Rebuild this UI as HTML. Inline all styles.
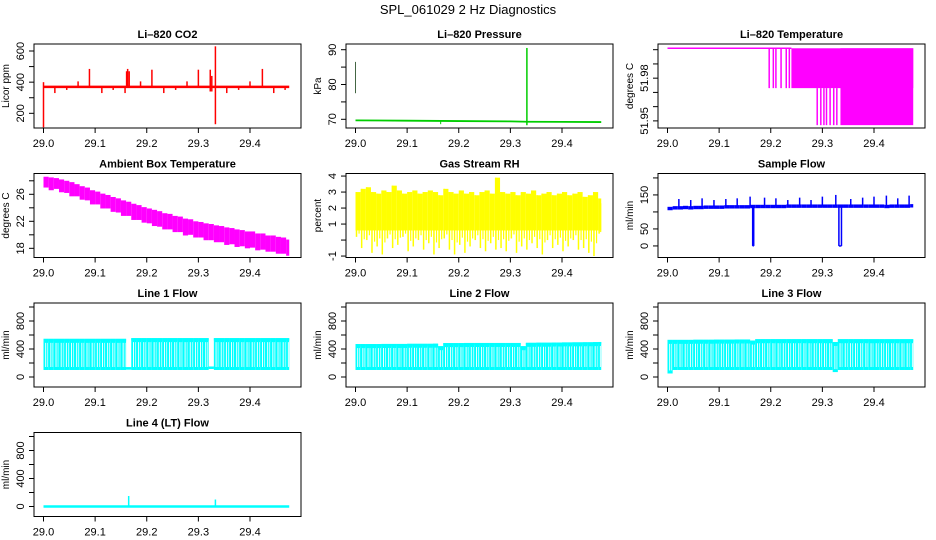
<!DOCTYPE html>
<html><head><meta charset="utf-8"><style>
body{margin:0;background:#fff;}
svg{display:block;font-family:"Liberation Sans",Arial,sans-serif;}
</style></head><body>
<svg id="c" width="936" height="540" viewBox="0 0 936 540" xmlns="http://www.w3.org/2000/svg">
<text x="468" y="14" text-anchor="middle" font-size="13">SPL_061029  2 Hz Diagnostics</text>
</svg>
<script>
// ---- shared x data ----
const xTicks=[29.0,29.1,29.2,29.3,29.4];
const xTickLabels=["29.0","29.1","29.2","29.3","29.4"];
const binStart=29.0, binStep=0.01;
// ---- CO2 ----
const co2BaseX=[29.0,29.476];
const co2BaseY=[370,370];
const co2SpikeX=[29.0,29.022,29.045,29.067,29.089,29.113,29.135,29.158,29.161,29.163,29.166,29.188,29.21,29.233,29.256,29.278,29.30,29.323,29.326,29.333,29.355,29.378,29.40,29.424,29.446,29.468];
const co2SpikeLo=[110,330,350,370,370,330,350,330,370,370,370,370,370,330,350,370,370,340,340,130,330,350,370,370,330,350];
const co2SpikeHi=[400,370,370,405,485,370,370,370,470,485,470,405,480,370,370,405,480,480,440,630,370,370,405,485,370,370];
// ---- Pressure ----
const presX=[29.0,29.1,29.2,29.3,29.333,29.4,29.476];
const presY=[69.7,69.6,69.5,69.4,69.3,69.25,69.2];
const presSpikeX=[29.0,29.165,29.332];
const presSpikeLo=[77.5,68.6,68.3];
const presSpikeHi=[86.5,69.8,90.5];
// ---- Li-820 temperature ----
const ltLevels=[52.001,51.973,51.947];
const ltTopX=[29.0,29.24];
const ltDropMidX=[29.197,29.205,29.21,29.22,29.23,29.236];
const ltBandMidX=[29.24,29.476];
const ltDropLowX=[29.29,29.297,29.303,29.308,29.315,29.322,29.328];
const ltBandLowX=[29.335,29.476];
// ---- Ambient box temperature (bins of 0.01) ----
const ambHi=[28.6,28.5,28.4,28.2,28.0,27.8,27.5,27.2,27.0,26.6,26.4,26.1,25.9,25.6,25.4,25.1,24.9,24.6,24.4,24.1,23.9,23.7,23.5,23.2,23.1,22.8,22.7,22.4,22.3,22.0,21.9,21.7,21.6,21.4,21.3,21.1,21.0,20.8,20.7,20.5,20.5,20.2,20.2,19.9,19.9,19.7,19.6,19.3];
const ambLo=[27.0,26.6,26.8,26.3,26.2,25.7,25.7,25.2,25.1,24.5,24.5,23.9,23.9,23.4,23.3,22.8,22.8,22.2,22.2,21.8,21.7,21.3,21.2,20.8,20.8,20.4,20.4,19.9,20.0,19.6,19.6,19.2,19.2,18.9,18.9,18.5,18.6,18.2,18.3,18.0,18.1,17.7,17.8,17.5,17.5,17.2,17.2,16.9];
// ---- Gas stream RH ----
const rhHi=[3.0,3.2,3.3,3.0,2.9,3.1,3.0,3.4,3.1,2.9,3.0,3.1,2.9,3.0,3.1,3.0,2.8,3.2,3.0,2.9,3.1,2.9,3.0,2.8,3.0,3.1,2.9,3.9,3.0,2.9,3.0,2.8,3.0,2.9,3.1,2.8,2.9,3.0,2.8,2.9,3.0,2.8,2.9,3.0,2.7,2.8,3.0,2.6];
const rhLo=[0.2,-0.5,0.0,-0.8,-0.4,-0.9,0.1,-0.5,-0.3,0.2,-0.7,-0.4,0.0,-0.6,-0.2,-0.9,-0.5,0.1,-0.6,-0.9,-0.3,-0.8,-0.4,0.0,-0.5,-0.7,-0.2,-0.6,-0.5,-0.7,0.1,-0.8,-0.4,-0.6,-0.2,-0.5,-0.9,0.0,-0.5,-0.3,-0.7,-0.4,0.0,-0.6,-0.5,-0.8,-1.0,0.4];
// ---- Sample flow ----
const sfMid=[110,112,112,113,112,113,113,114,114,114,114,115,115,115,115,115,116,116,116,116,116,116,116,117,117,117,117,117,117,117,117,117,117,117,117,117,117,117,117,117,117,117,116,117,117,117,117,118];
const sfSpikeX=[29.022,29.045,29.067,29.09,29.113,29.135,29.16,29.188,29.21,29.233,29.256,29.278,29.30,29.326,29.355,29.378,29.40,29.424,29.446,29.468];
const sfSpikeY=[138,135,140,135,138,140,145,142,140,135,142,135,145,150,138,142,145,148,140,148];
const sfDipStart=[29.165,29.332];
const sfDipEnd=[29.167,29.337];
const sfDipY=[0,0];
// ---- Line flows (bins of 0.01) ----
const l1Hi=[545,545,545,545,545,545,545,545,545,545,545,545,545,545,545,545,140,555,555,555,555,555,555,555,555,555,555,555,555,555,555,555,150,555,555,555,555,555,555,555,555,555,555,555,555,555,555,555];
const l1Lo=[100,100,100,100,100,100,100,100,100,100,100,100,100,100,100,100,125,100,100,100,100,100,100,100,100,100,100,100,100,100,100,100,130,100,100,100,100,100,100,100,100,100,100,100,100,100,100,100];
const l2Hi=[470,470,470,470,470,472,472,472,472,472,474,474,474,474,474,476,440,484,484,484,484,486,486,486,486,486,486,486,486,486,486,486,440,488,488,490,490,490,492,492,494,494,495,495,496,496,498,500];
const l2Lo=[100,100,100,100,100,100,100,100,100,100,100,100,100,100,100,100,100,100,100,100,100,100,100,100,100,100,100,100,100,100,100,100,100,100,100,100,100,100,100,100,100,100,100,100,100,100,100,100];
const l3Hi=[530,530,530,530,530,532,532,532,532,534,534,534,534,536,536,536,520,540,540,540,540,540,540,540,540,540,540,540,540,540,540,540,500,540,540,540,540,540,540,540,540,540,540,540,540,540,540,540];
const l3Lo=[50,100,100,100,100,100,100,100,100,100,100,100,100,100,100,100,100,100,100,100,100,100,100,100,100,100,100,100,100,100,100,100,70,100,100,100,100,100,100,100,100,100,100,100,100,100,100,100];
const l4BaseX=[29.0,29.476];
const l4BaseY=[0,0];
const l4SpikeX=[29.165,29.333];
const l4SpikeY=[150,100];

const NS="http://www.w3.org/2000/svg";
const svg=document.getElementById('c');
const X0=28.9816,X1=29.4988,BW=267,BH=84;
const colL=[34,346,658], rowT=[44,173.5,303,432.5];
function mk(tag,attrs,parent){const e=document.createElementNS(NS,tag);for(const k in attrs)e.setAttribute(k,attrs[k]);parent.appendChild(e);return e;}

function panel(name,col,row,title,ylab,ymin,ymax,yticks,ylabels){
  const L=colL[col],T=rowT[row];
  const g=mk('g',{},svg);
  
  
  const sx=v=>L+(v-X0)/(X1-X0)*BW;
  const sy=v=>T+BH-(v-ymin)/(ymax-ymin)*BH;
  const t=mk('text',{x:L+BW/2,y:T-6,'text-anchor':'middle','font-size':'11','font-weight':'bold'},g);
  t.textContent=title;
  
  
  const plot=mk('g',{},g);
  
  
  const box=mk('rect',{x:L,y:T,width:BW,height:BH,fill:'none',stroke:'#000','stroke-width':1},g);
  
  
  const xa=mk('g',{},g);
  
  
  xTicks.forEach((v,i)=>{
    mk('line',{x1:sx(v),x2:sx(v),y1:T+BH,y2:T+BH+5,stroke:'#000'},xa);
    const lb=mk('text',{x:sx(v),y:T+BH+19,'text-anchor':'middle','font-size':'11'},xa);
    lb.textContent=xTickLabels[i];
    
    
  });
  const ya=mk('g',{},g);
  
  
  yticks.forEach(v=>{mk('line',{x1:L-5,x2:L,y1:sy(v),y2:sy(v),stroke:'#000'},ya);});
  ylabels.forEach(v=>{
    const x=L-10,y=sy(v);
    const lb=mk('text',{x:x,y:y,'text-anchor':'middle','font-size':'11',transform:`rotate(-90 ${x} ${y})`},ya);
    lb.textContent=String(v);
    
    
  });
  const yx=L-25,yy=T+BH/2;
  const yl=mk('text',{x:yx,y:yy,'text-anchor':'middle','font-size':'10',transform:`rotate(-90 ${yx} ${yy})`},g);
  yl.textContent=ylab;
  
  
  return {g:plot,sx,sy};
}
function vl(p,x,a,b,c,w){mk('line',{x1:x,x2:x,y1:a,y2:b,stroke:c,'stroke-width':w||1},p);}
function band(P,lo,hi,c){lo.forEach((v,i)=>{const x1=P.sx(binStart+i*binStep),x2=P.sx(Math.min(binStart+(i+1)*binStep,29.476));const y1=P.sy(hi[i]),y2=P.sy(v);mk('rect',{x:x1,y:Math.min(y1,y2),width:Math.max(x2-x1,1),height:Math.max(Math.abs(y2-y1),1),fill:c},P.g);});}
function stripes(P,lo,hi,c){lo.forEach((v,i)=>{const x1=P.sx(binStart+i*binStep),x2=P.sx(Math.min(binStart+(i+1)*binStep,29.476));
  const y1=P.sy(hi[i]),y2=P.sy(v);
  mk('rect',{x:x1,y:Math.min(y1,y2),width:Math.max(x2-x1,1),height:Math.max(Math.abs(y2-y1),2),fill:c},P.g);
  mk('rect',{x:x1,y:y1,width:Math.max(x2-x1,1),height:2.5,fill:c},P.g);
  if(hi[i]>300){mk('line',{x1:x1+2.2,x2:x1+2.2,y1:y1+4,y2:y2-3,stroke:'#fff','stroke-width':0.9},P.g);
    mk('line',{x1:x1+4.2,x2:x1+4.2,y1:y1+4,y2:y2-3,stroke:'#fff','stroke-width':0.6},P.g);}
});}

// CO2
let P=panel('co2',0,0,'Li\u2013820 CO2','Licor ppm',105.7,645,[200,300,400,500,600],[200,400,600]);
mk('line',{x1:P.sx(co2BaseX[0]),x2:P.sx(co2BaseX[1]),y1:P.sy(co2BaseY[0]),y2:P.sy(co2BaseY[1]),stroke:'#f00','stroke-width':2.5},P.g);
co2SpikeX.forEach((x,i)=>vl(P.g,P.sx(x),P.sy(co2SpikeLo[i]),P.sy(co2SpikeHi[i]),'#f00',1.5));

// Pressure
P=panel('pressure',1,0,'Li\u2013820 Pressure','kPa',67.5,91.64,[70,75,80,85,90],[70,80,90]);
mk('polyline',{points:presX.map((x,i)=>P.sx(x)+','+P.sy(presY[i])).join(' '),fill:'none',stroke:'#00cd00','stroke-width':1.8},P.g);
presSpikeX.forEach((x,i)=>vl(P.g,P.sx(x),P.sy(presSpikeLo[i]),P.sy(presSpikeHi[i]),i==0?'#446644':'#00cd00',i==2?1.5:1));

// Li-820 temperature
P=panel('li820-temperature',2,0,'Li\u2013820 Temperature','degrees C',51.945,52.004,[51.95,51.96,51.97,51.98,51.99,52.00],['51.95','51.98']);
mk('line',{x1:P.sx(ltTopX[0]),x2:P.sx(ltTopX[1]),y1:P.sy(ltLevels[0]),y2:P.sy(ltLevels[0]),stroke:'#f0f','stroke-width':1.5},P.g);
ltDropMidX.forEach(x=>vl(P.g,P.sx(x),P.sy(ltLevels[0]),P.sy(ltLevels[1]),'#f0f',1.5));
mk('rect',{x:P.sx(ltBandMidX[0]),y:P.sy(ltLevels[0]),width:P.sx(ltBandMidX[1])-P.sx(ltBandMidX[0]),height:P.sy(ltLevels[1])-P.sy(ltLevels[0]),fill:'#f0f'},P.g);
ltDropLowX.forEach(x=>vl(P.g,P.sx(x),P.sy(ltLevels[1]),P.sy(ltLevels[2]),'#f0f',1.5));
mk('rect',{x:P.sx(ltBandLowX[0]),y:P.sy(ltLevels[0]),width:P.sx(ltBandLowX[1])-P.sx(ltBandLowX[0]),height:P.sy(ltLevels[2])-P.sy(ltLevels[0]),fill:'#f0f'},P.g);

// Ambient
P=panel('ambient-temperature',0,1,'Ambient Box Temperature','degrees C',16.64,29.08,[18,20,22,24,26,28],[18,22,26]);
band(P,ambLo,ambHi,'#f0f');

// Gas RH
P=panel('gas-stream-rh',1,1,'Gas Stream RH','percent',-1.09,4.16,[-1,0,1,2,3,4],[-1,1,2,3,4]);
rhHi.forEach((h,i)=>{const x1=P.sx(binStart+i*binStep),x2=P.sx(Math.min(binStart+(i+1)*binStep,29.476));
  mk('rect',{x:x1,y:P.sy(h),width:x2-x1,height:P.sy(0.6)-P.sy(h),fill:'#ff0'},P.g);
  vl(P.g,x1+1,P.sy(rhLo[i]),P.sy(h),'#ff0',1.5);
  vl(P.g,(x1+x2)/2+1,P.sy((rhLo[i]+0.6)/2),P.sy(h-0.3),'#ff0',1.2);});

// Sample flow
P=panel('sample-flow',2,1,'Sample Flow','ml/min',-34,213,[0,50,100,150,200],[0,50,150]);
band(P,sfMid.map(v=>v-5),sfMid.map(v=>v+5),'#00f');
sfSpikeX.forEach((x,i)=>vl(P.g,P.sx(x),P.sy(115),P.sy(sfSpikeY[i]),'#00f',1.5));
sfDipStart.forEach((x,i)=>{vl(P.g,P.sx(x),P.sy(118),P.sy(sfDipY[i]),'#00f',1.5);vl(P.g,P.sx(sfDipEnd[i]),P.sy(118),P.sy(sfDipY[i]),'#00f',1.5);
  mk('line',{x1:P.sx(x),x2:P.sx(sfDipEnd[i]),y1:P.sy(sfDipY[i]),y2:P.sy(sfDipY[i]),stroke:'#00f','stroke-width':1.5},P.g);});

// Line flows
const ft=[0,200,400,600,800,1000],fl=[0,400,800];
P=panel('line1-flow',0,2,'Line 1 Flow','ml/min',-143,1057,ft,fl); stripes(P,l1Lo,l1Hi,'#0ff');
P=panel('line2-flow',1,2,'Line 2 Flow','ml/min',-143,1057,ft,fl); stripes(P,l2Lo,l2Hi,'#0ff');
P=panel('line3-flow',2,2,'Line 3 Flow','ml/min',-143,1057,ft,fl); stripes(P,l3Lo,l3Hi,'#0ff');
P=panel('line4-flow',0,3,'Line 4 (LT) Flow','ml/min',-143,1057,ft,fl);
mk('line',{x1:P.sx(l4BaseX[0]),x2:P.sx(l4BaseX[1]),y1:P.sy(l4BaseY[0]),y2:P.sy(l4BaseY[1]),stroke:'#0ff','stroke-width':2.5},P.g);
l4SpikeX.forEach((x,i)=>vl(P.g,P.sx(x),P.sy(0),P.sy(l4SpikeY[i]),'#0ff',1.5));
</script>
</body></html>
